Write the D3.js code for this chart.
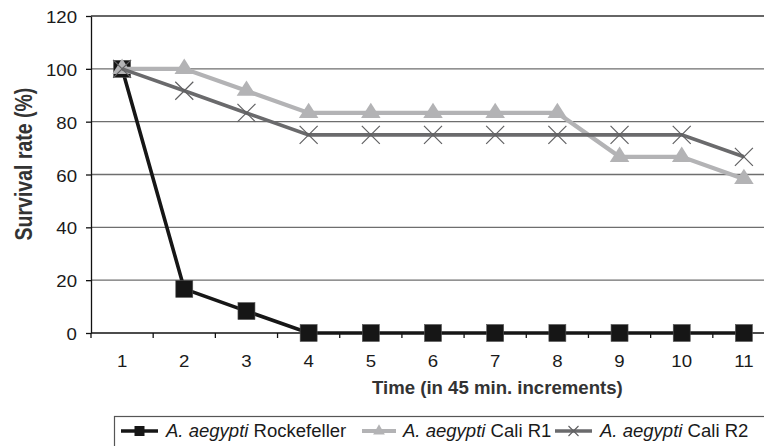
<!DOCTYPE html>
<html>
<head>
<meta charset="utf-8">
<script src="https://cdn.jsdelivr.net/npm/d3@7"></script>
<style>
  body { margin: 0; background: #fff; }
  svg { display: block; font-family: "Liberation Sans", Arial, sans-serif; }
</style>
</head>
<body>
<div id="chart"></div>
<script>
// survival data
var categories = ["1", "2", "3", "4", "5", "6", "7", "8", "9", "10", "11"];
var rockefeller = [100, 16.7, 8.3, 0, 0, 0, 0, 0, 0, 0, 0];
var caliR1 = [100, 100, 91.7, 83.3, 83.3, 83.3, 83.3, 83.3, 66.7, 66.7, 58.3];
var caliR2 = [100, 91.7, 83.3, 75, 75, 75, 75, 75, 75, 75, 66.7];
var yTicks = [0, 20, 40, 60, 80, 100, 120];
var seriesNames = ["Rockefeller", "Cali R1", "Cali R2"];

var width = 764, height = 446;
var margin = {top: 16, left: 91};
var plotRight = 775, plotBottom = 333;

var svg = d3.select("#chart").append("svg")
  .attr("width", width)
  .attr("height", height);

var xScale = d3.scaleBand()
  .domain(categories)
  .range([margin.left, plotRight])
  .paddingInner(0).paddingOuter(0);

var yScale = d3.scaleLinear()
  .domain([0, 120])
  .range([plotBottom, margin.top]);

function cx(i) { return xScale(categories[i]) + xScale.bandwidth() / 2; }

// gridlines
svg.append("g")
  .selectAll("line")
  .data(yTicks.filter(function(d) { return d > 0; }))
  .enter().append("line")
  .attr("x1", margin.left).attr("x2", plotRight)
  .attr("y1", function(d) { return yScale(d); })
  .attr("y2", function(d) { return yScale(d); })
  .attr("stroke", function(d) { return d == 120 ? "#333" : "#6e6e6e"; })
  .attr("stroke-width", 1.4);

// y axis
var yAxis = svg.append("g")
  .attr("transform", "translate(" + margin.left + ",0)")
  .call(d3.axisLeft(yScale).tickValues(yTicks).tickSize(5).tickSizeOuter(0));
yAxis.select(".domain").attr("stroke", "#111").attr("stroke-width", 1.3);
yAxis.selectAll(".tick line").attr("stroke", "#111").attr("stroke-width", 1.3);
yAxis.selectAll(".tick text").remove();
yAxis.selectAll(".tick").append("text")
  .attr("text-anchor", "end")
  .attr("transform", "translate(-14,6.5) scale(1.13,1)")
  .attr("fill", "#1a1a1a")
  .style("font-size", "16.5px")
  .text(function(d) { return d; });

// x axis: ticks sit on the band edges
var xAxis = svg.append("g")
  .attr("transform", "translate(0," + plotBottom + ")");
xAxis.append("line")
  .attr("x1", margin.left).attr("x2", plotRight)
  .attr("stroke", "#111").attr("stroke-width", 1.3);
xAxis.selectAll(".edge")
  .data(categories)
  .enter().append("line")
  .attr("class", "edge")
  .attr("x1", function(d) { return xScale(d); })
  .attr("x2", function(d) { return xScale(d); })
  .attr("y1", 0).attr("y2", 5)
  .attr("stroke", "#111").attr("stroke-width", 1.3);
xAxis.selectAll(".lab")
  .data(categories)
  .enter().append("text")
  .attr("class", "lab")
  .attr("text-anchor", "middle")
  .attr("transform", function(d) {
    return "translate(" + (xScale(d) + xScale.bandwidth() / 2) + ",34) scale(1.13,1)";
  })
  .attr("fill", "#1a1a1a")
  .style("font-size", "16.5px")
  .text(function(d) { return d; });

// axis titles
svg.append("text")
  .attr("x", 372).attr("y", 394)
  .attr("fill", "#333")
  .style("font-size", "18.6px").style("font-weight", "bold")
  .text("Time (in 45 min. increments)");

svg.append("text")
  .attr("text-anchor", "middle")
  .attr("transform", "translate(32,164) scale(1.25,1) rotate(-90)")
  .attr("fill", "#333")
  .style("font-size", "19.5px").style("font-weight", "bold")
  .text("Survival rate (%)");

var line = d3.line()
  .x(function(d, i) { return cx(i); })
  .y(function(d) { return yScale(d); });

// Rockefeller
svg.append("path")
  .datum(rockefeller)
  .attr("d", line)
  .attr("fill", "none").attr("stroke", "#161616").attr("stroke-width", 3.6);
svg.selectAll(".sq")
  .data(rockefeller)
  .enter().append("rect")
  .attr("class", "sq")
  .attr("x", function(d, i) { return cx(i) - 8.5; })
  .attr("y", function(d) { return yScale(d) - 8.5; })
  .attr("width", 17).attr("height", 17)
  .attr("fill", "#161616").attr("stroke", "#555").attr("stroke-width", 0.6);

// Cali R1
svg.append("path")
  .datum(caliR1)
  .attr("d", line)
  .attr("fill", "none").attr("stroke", "#b3b3b5").attr("stroke-width", 4.2);
var tri = d3.symbol().type(d3.symbolTriangle).size(150);
svg.selectAll(".tri")
  .data(caliR1)
  .enter().append("path")
  .attr("class", "tri")
  .attr("d", tri)
  .attr("transform", function(d, i) { return "translate(" + cx(i) + "," + yScale(d) + ") scale(1.05,0.95)"; })
  .attr("fill", "#b3b3b5");

// Cali R2
svg.append("path")
  .datum(caliR2)
  .attr("d", line)
  .attr("fill", "none").attr("stroke", "#6a6a6c").attr("stroke-width", 3.6);
svg.selectAll(".cross")
  .data(caliR2)
  .enter().append("path")
  .attr("class", "cross")
  .attr("d", "M-9,-9L9,9M-9,9L9,-9")
  .attr("transform", function(d, i) { return "translate(" + cx(i) + "," + yScale(d) + ")"; })
  .attr("fill", "none").attr("stroke", "#606062").attr("stroke-width", 1.2);

// legend
var legend = svg.append("g");
legend.append("rect")
  .attr("x", 114.5).attr("y", 416.5)
  .attr("width", 700).attr("height", 60)
  .attr("fill", "none").attr("stroke", "#555").attr("stroke-width", 1.2);

var legendX = [[121, 158, 166], [362, 396, 403], [555, 592, 600]];
var legendStroke = ["#161616", "#b3b3b5", "#6a6a6c"];
var ly = 431;
legendX.forEach(function(p, k) {
  legend.append("line")
    .attr("x1", p[0]).attr("x2", p[1]).attr("y1", ly).attr("y2", ly)
    .attr("stroke", legendStroke[k]).attr("stroke-width", k == 1 ? 4.2 : 3.6);
  var mx = (p[0] + p[1]) / 2;
  if (k == 0) {
    legend.append("rect").attr("x", mx - 5).attr("y", ly - 5)
      .attr("width", 10).attr("height", 10).attr("fill", "#161616");
  } else if (k == 1) {
    legend.append("path").attr("d", d3.symbol().type(d3.symbolTriangle).size(60))
      .attr("transform", "translate(" + mx + "," + ly + ")").attr("fill", "#b3b3b5");
  } else {
    legend.append("path").attr("d", "M-5,-5L5,5M-5,5L5,-5")
      .attr("transform", "translate(" + mx + "," + ly + ")")
      .attr("stroke", "#606062").attr("stroke-width", 1.1);
  }
  var t = legend.append("text")
    .attr("transform", "translate(" + p[2] + ",437) scale(1.06,1)")
    .attr("fill", "#1a1a1a")
    .style("font-size", "17.5px");
  t.append("tspan").style("font-style", "italic").text("A. aegypti");
  t.append("tspan").text(" " + seriesNames[k]);
});
</script>
</body>
</html>
